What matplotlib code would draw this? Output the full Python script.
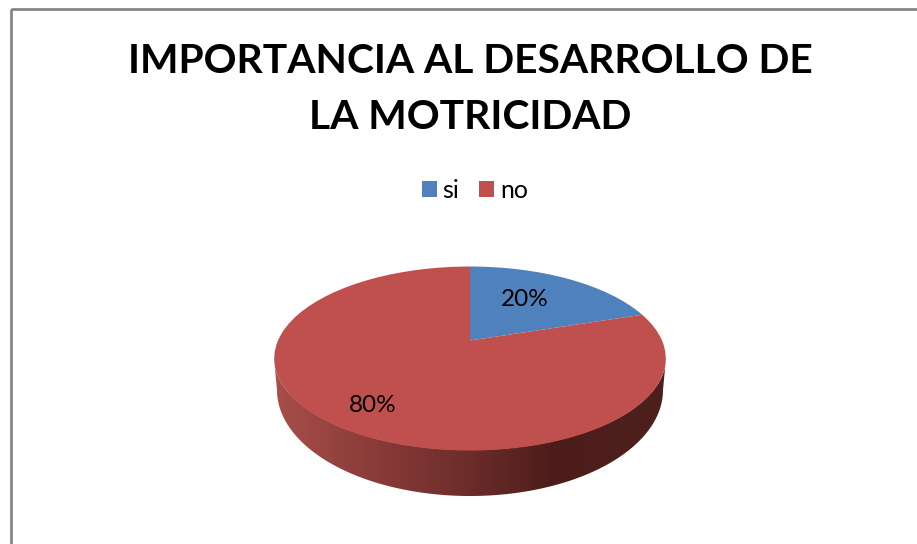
import numpy as np
import matplotlib
matplotlib.use("Agg")
import matplotlib.pyplot as plt
from matplotlib.transforms import Transform
from matplotlib.patches import Polygon, Rectangle, Patch
from matplotlib.colors import LinearSegmentedColormap

categories = ["si", "no"]
values = [20, 80]
colors = ["#4F81BD", "#C0504D"]
title = "IMPORTANCIA AL DESARROLLO DE\nLA MOTRICIDAD"

W, H = 917, 544
plt.rcParams["font.family"] = ["Lato", "DejaVu Sans"]

CX, CY = 470.0, 340.5   # apex of the pie in pixels
K, SY, SX = 0.196, 88.5, 192.0


class Perspective(Transform):
    """Tilts the unit circle of the pie into the perspective view."""
    input_dims = output_dims = 2
    is_separable = False
    has_inverse = False

    def transform_non_affine(self, xy):
        xy = np.asarray(xy, float)
        w = 1 + K * xy[:, 1]
        return np.column_stack((CX + SX * xy[:, 0] / w, CY - SY * xy[:, 1] / w))


fig = plt.figure(figsize=(W / 100, H / 100), dpi=100, facecolor="white")
ax = fig.add_axes([0, 0, 1, 1])

# side wall
t = np.linspace(np.pi, 2 * np.pi, 200)
top_x = 470 + 196 * np.cos(t)
top_y = 358 - 92 * np.sin(t)
bot_x = 470 + 193 * np.cos(t)
bot_y = 390 - 106 * np.sin(t)
wall = np.column_stack((np.r_[top_x, bot_x[::-1]], np.r_[top_y, bot_y[::-1]]))
clip = Polygon(wall, closed=True, transform=ax.transData, fc="none", ec="none")
ax.add_patch(clip)
cmap = LinearSegmentedColormap.from_list(
    "wall",
    [(0.0, "#A84E4B"), (0.22, "#8E3E3B"), (0.5, "#6B2C2A"), (0.72, "#4C1C1A"), (1.0, "#4D201E")],
)
img = ax.imshow(np.linspace(0, 1, 400)[None, :], cmap=cmap, aspect="auto",
                extent=(274, 666, 500, 350), zorder=1)
img.set_clip_path(clip)

# pie
persp = Perspective() + ax.transData
wedges, _ = ax.pie(values, colors=colors, startangle=90, counterclock=False,
                   wedgeprops={"transform": persp, "linewidth": 0, "zorder": 2})
for wd in wedges:
    wd.set_zorder(2)
    wd.set_transform(persp)

ax.set_aspect("auto")
ax.set_xlim(0, W)
ax.set_ylim(H, 0)
ax.axis("off")

# percentage labels
label_pos = [(524.5, 300), (372.5, 405)]
for v, (x, y) in zip(values, label_pos):
    ax.text(x, y, f"{v}%", ha="center", va="center", fontsize=17.5, color="black", zorder=3)

# title
ax.text(470, 89.5, title, ha="center", va="center", fontsize=29.3, fontweight="bold",
        color="black", linespacing=1.64, zorder=3)

# legend
handles = [Patch(fc=c, ec="none", label=n) for c, n in zip(colors, categories)]
ax.legend(handles=handles, loc="center", bbox_to_anchor=(475 / W, 1 - 190.5 / H), ncol=2,
          frameon=False, fontsize=18, handlelength=0.58, handleheight=0.58,
          handletextpad=0.24, columnspacing=0.8, labelcolor="black")

# chart border
ax.add_patch(Rectangle((11, 9), W + 20, H + 20, fc="none", ec="#868686", lw=2.0, zorder=4))
ax.set_xlim(0, W)
ax.set_ylim(H, 0)

fig.savefig("out.png", dpi=100)
